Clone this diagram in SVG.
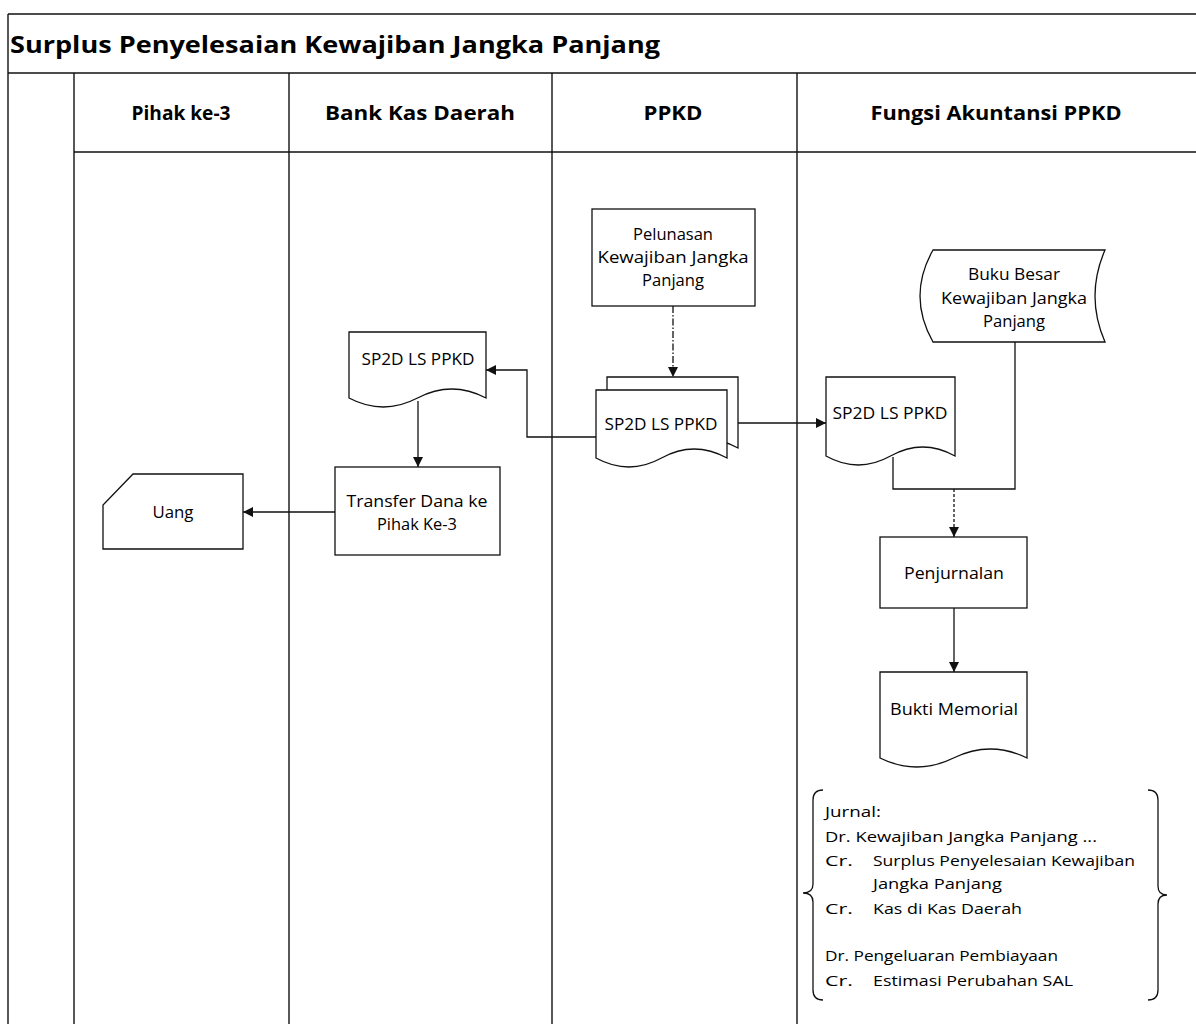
<svg xmlns="http://www.w3.org/2000/svg" width="1196" height="1024" viewBox="0 0 1196 1024">
  <style>
    text { font-family: "Open Sans", "Liberation Sans", sans-serif; fill: #000; }
    .title { font-size: 24px; font-weight: 700; }
    .lane { font-size: 19px; font-weight: 700; text-anchor: middle; }
    .lbl { font-size: 16px; text-anchor: middle; }
    .jr { font-size: 15px; }
    .frame { stroke: #111; stroke-width: 1.4; fill: none; }
    .shape { stroke: #111; stroke-width: 1.3; fill: #fff; }
    .wire { stroke: #111; stroke-width: 1.3; fill: none; }
    .dashdot { stroke-dasharray: 7 2 1.5 2; }
    .dotted { stroke-dasharray: 3 2; }
  </style>
  <defs>
    <marker id="arrow" viewBox="0 0 10 10" refX="10" refY="5" markerWidth="10" markerHeight="10" markerUnits="userSpaceOnUse" orient="auto">
      <path d="M0,0 L10,5 L0,10 Z" fill="#111"/>
    </marker>
  </defs>
  <rect width="1196" height="1024" fill="#fff"/>

  <!-- swimlane frame -->
  <g id="frame">
    <line class="frame" x1="8" y1="14" x2="1196" y2="14"/>
    <line class="frame" x1="8" y1="73" x2="1196" y2="73"/>
    <line class="frame" x1="74" y1="152" x2="1196" y2="152"/>
    <line class="frame" x1="8" y1="14" x2="8" y2="1024"/>
    <line class="frame" x1="74" y1="73" x2="74" y2="1024"/>
    <line class="frame" x1="289" y1="73" x2="289" y2="1024"/>
    <line class="frame" x1="552" y1="73" x2="552" y2="1024"/>
    <line class="frame" x1="797" y1="73" x2="797" y2="1024"/>
    <text class="title" x="10" y="53" textLength="650" lengthAdjust="spacingAndGlyphs">Surplus Penyelesaian Kewajiban Jangka Panjang</text>
    <text class="lane" x="181" y="120" textLength="99" lengthAdjust="spacingAndGlyphs">Pihak ke-3</text>
    <text class="lane" x="420" y="120" textLength="190" lengthAdjust="spacingAndGlyphs">Bank Kas Daerah</text>
    <text class="lane" x="673" y="120" textLength="59" lengthAdjust="spacingAndGlyphs">PPKD</text>
    <text class="lane" x="996" y="120" textLength="251" lengthAdjust="spacingAndGlyphs">Fungsi Akuntansi PPKD</text>
  </g>

  <!-- connectors -->
  <g id="connectors">
    <line class="wire dashdot" x1="673" y1="306" x2="673" y2="377" marker-end="url(#arrow)"/>
    <polyline class="wire" points="596,437 527,437 527,370 486,370" marker-end="url(#arrow)"/>
    <line class="wire" x1="738" y1="423" x2="826" y2="423" marker-end="url(#arrow)"/>
    <line class="wire" x1="418" y1="401" x2="418" y2="467" marker-end="url(#arrow)"/>
    <line class="wire" x1="335" y1="512" x2="243" y2="512" marker-end="url(#arrow)"/>
    <polyline class="wire" points="1015,342 1015,489 893,489 893,457"/>
    <line class="wire dotted" x1="954" y1="489" x2="954" y2="537" marker-end="url(#arrow)"/>
    <line class="wire" x1="954" y1="608" x2="954" y2="672" marker-end="url(#arrow)"/>
  </g>

  <g id="pelunasan">
    <rect class="shape" x="592" y="209" width="163" height="97"/>
    <text class="lbl" x="673" y="240" textLength="80" lengthAdjust="spacingAndGlyphs">Pelunasan</text>
    <text class="lbl" x="673" y="263" textLength="151" lengthAdjust="spacingAndGlyphs">Kewajiban Jangka</text>
    <text class="lbl" x="673" y="286" textLength="62" lengthAdjust="spacingAndGlyphs">Panjang</text>
  </g>

  <g id="sp2d-ppkd">
    <path class="shape" d="M607,377 H738 V448 Q705,430 672.5,448 Q640,466 607,448 Z"/>
    <path class="shape" d="M596,390 H727 V458 Q694,440 661.5,458 Q629,476 596,458 Z"/>
    <text class="lbl" x="661" y="430" textLength="113" lengthAdjust="spacingAndGlyphs">SP2D LS PPKD</text>
  </g>

  <g id="sp2d-bank">
    <path class="shape" d="M349,332 H486 V398 Q451.75,380 417.5,398 Q383.25,416 349,398 Z"/>
    <text class="lbl" x="418" y="365" textLength="113" lengthAdjust="spacingAndGlyphs">SP2D LS PPKD</text>
  </g>

  <g id="transfer">
    <rect class="shape" x="335" y="467" width="165" height="88"/>
    <text class="lbl" x="417" y="507" textLength="141" lengthAdjust="spacingAndGlyphs">Transfer Dana ke</text>
    <text class="lbl" x="417" y="530" textLength="80" lengthAdjust="spacingAndGlyphs">Pihak Ke-3</text>
  </g>

  <g id="uang">
    <path class="shape" d="M133,474 H243 V549 H103 V505 Z"/>
    <text class="lbl" x="173" y="518" textLength="41" lengthAdjust="spacingAndGlyphs">Uang</text>
  </g>

  <g id="sp2d-akuntansi">
    <path class="shape" d="M826,377 H955 V456 Q922.75,438 890.5,456 Q858.25,474 826,456 Z"/>
    <text class="lbl" x="890" y="419" textLength="115" lengthAdjust="spacingAndGlyphs">SP2D LS PPKD</text>
  </g>

  <g id="buku-besar">
    <path class="shape" d="M933,250 H1105 Q1085,296 1105,342 H933 Q907,296 933,250 Z"/>
    <text class="lbl" x="1014" y="280" textLength="92" lengthAdjust="spacingAndGlyphs">Buku Besar</text>
    <text class="lbl" x="1014" y="304" textLength="146" lengthAdjust="spacingAndGlyphs">Kewajiban Jangka</text>
    <text class="lbl" x="1014" y="327" textLength="62" lengthAdjust="spacingAndGlyphs">Panjang</text>
  </g>

  <g id="penjurnalan">
    <rect class="shape" x="880" y="537" width="147" height="71"/>
    <text class="lbl" x="954" y="579" textLength="100" lengthAdjust="spacingAndGlyphs">Penjurnalan</text>
  </g>

  <g id="bukti-memorial">
    <path class="shape" d="M880,672 H1027 V758 Q990.25,740 953.5,758 Q916.75,776 880,758 Z"/>
    <text class="lbl" x="954" y="715" textLength="128" lengthAdjust="spacingAndGlyphs">Bukti Memorial</text>
  </g>

  <g id="jurnal">
    <path class="wire" d="M823,790 Q813,790 813,800 V884 Q813,893 803,893 Q813,893 813,902 V990 Q813,1000 823,1000"/>
    <path class="wire" d="M1148,790 Q1158,790 1158,800 V886 Q1158,895 1167,895 Q1158,895 1158,904 V990 Q1158,1000 1148,1000"/>
    <text class="jr" x="825" y="817" textLength="56" lengthAdjust="spacingAndGlyphs">Jurnal:</text>
    <text class="jr" x="825" y="842" textLength="272" lengthAdjust="spacingAndGlyphs">Dr. Kewajiban Jangka Panjang ...</text>
    <text class="jr" x="825" y="866" textLength="28" lengthAdjust="spacingAndGlyphs">Cr.</text>
    <text class="jr" x="873" y="866" textLength="262" lengthAdjust="spacingAndGlyphs">Surplus Penyelesaian Kewajiban</text>
    <text class="jr" x="873" y="889" textLength="129" lengthAdjust="spacingAndGlyphs">Jangka Panjang</text>
    <text class="jr" x="825" y="914" textLength="28" lengthAdjust="spacingAndGlyphs">Cr.</text>
    <text class="jr" x="873" y="914" textLength="149" lengthAdjust="spacingAndGlyphs">Kas di Kas Daerah</text>
    <text class="jr" x="825" y="961" textLength="233" lengthAdjust="spacingAndGlyphs">Dr. Pengeluaran Pembiayaan</text>
    <text class="jr" x="825" y="986" textLength="28" lengthAdjust="spacingAndGlyphs">Cr.</text>
    <text class="jr" x="873" y="986" textLength="200" lengthAdjust="spacingAndGlyphs">Estimasi Perubahan SAL</text>
  </g>
</svg>
